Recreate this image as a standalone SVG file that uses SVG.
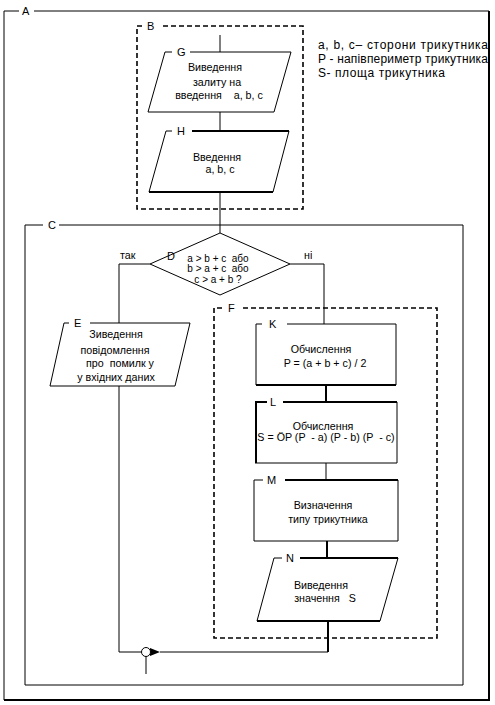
<svg xmlns="http://www.w3.org/2000/svg" width="495" height="705" viewBox="0 0 495 705">
<defs>
<style>
text{font-family:"Liberation Sans",Arial,sans-serif;font-size:10.7px;fill:#000}
.lbl{font-size:11px}
.leg{font-size:12px}
.dt{font-size:10px}
.m{text-anchor:middle}
.s{fill:none;stroke:#000;stroke-width:1}
.t{fill:none;stroke:#000;stroke-width:2}
.d{fill:none;stroke:#000;stroke-width:1.6;stroke-dasharray:5 3}
</style>
<marker id="arr" viewBox="0 0 10 8" refX="0" refY="4" markerWidth="10" markerHeight="8" markerUnits="userSpaceOnUse" orient="auto">
<path d="M0,4 L10,0 L10,8 Z" fill="#000"/>
</marker>
</defs>
<rect width="495" height="705" fill="#fff"/>

<g id="frameA">
<path class="s" d="M19,11 H4 V700"/>
<path class="s" d="M34,11 H489"/>
<path class="t" d="M489,11 V700 H4"/>
<text class="lbl" x="22" y="15">A</text>
</g>

<g id="frameB">
<path class="d" d="M142,26 H137 V209 H303 V26 H160"/>
<text class="lbl" x="147" y="30">B</text>
</g>

<g id="legend">
<text class="leg" x="318" y="49" textLength="170" lengthAdjust="spacing">a, b, c– сторони трикутника</text>
<text class="leg" x="318" y="63" textLength="170" lengthAdjust="spacing">P - напівпериметр трикутника</text>
<text class="leg" x="318" y="77" textLength="127" lengthAdjust="spacing">S- площа трикутника</text>
</g>

<g id="frameC">
<path class="s" d="M43,225 H25 V685 H463 V225 H59"/>
<text class="lbl" x="48" y="229">C</text>
</g>

<g id="frameF">
<path class="d" d="M222,308 H214 V638 H437 V308 H240"/>
<text class="lbl" x="228" y="312">F</text>
</g>

<g id="connectors">
<path class="s" d="M220,35 V52"/>
<path class="s" d="M220,112 V131"/>
<path class="s" d="M220,192 V233"/>
<path class="s" d="M150,264 H119 V323"/>
<path class="s" d="M290,264 H324 V324"/>
<path class="s" d="M119,386 V652 H141.5"/>
<path class="t" d="M326,385 V402"/>
<path class="s" d="M326,463 V480"/>
<path class="t" d="M327,541 V558"/>
<path class="t" d="M328,621 V652"/>
<path class="s" d="M328,652 H160" marker-end="url(#arr)"/>
<circle cx="146" cy="652" r="4.5" fill="#fff" stroke="#000" stroke-width="1"/>
<path class="s" d="M146,656.5 V674"/>
</g>

<g id="G">
<path class="s" d="M172,52 H165 L148,112 H274 L291,52 H190"/>
<text class="lbl" x="177" y="56">G</text>
<text class="m" x="215" y="71">Виведення</text>
<text class="m" x="217" y="86">залиту на</text>
<text class="m" x="219" y="99" xml:space="preserve">введення    a, b, c</text>
</g>

<g id="H">
<path class="s" d="M172,131 H166 L149,192 M273,192 L289,131"/>
<path class="t" d="M192,131 H289 M149,192 H273"/>
<text class="lbl" x="177" y="135">H</text>
<text class="m" x="217" y="161">Введення</text>
<text class="m" x="220" y="173">a, b, c</text>
</g>

<g id="D">
<path class="s" d="M220,233 L290,264 L220,295 L150,264 Z"/>
<text class="lbl" x="167" y="260">D</text>
<text class="m dt" x="218" y="261.5" xml:space="preserve">a &gt; b + c  або</text>
<text class="m dt" x="218" y="272" xml:space="preserve">b &gt; a + c  або</text>
<text class="m dt" x="218" y="283">c &gt; a + b ?</text>
<text x="120" y="259">так</text>
<text x="304" y="259">ні</text>
</g>

<g id="E">
<path class="s" d="M69,323 H64 L50,386 H175 L190,323 H90"/>
<text class="lbl" x="74" y="327">E</text>
<text class="m" x="116" y="338">Зиведення</text>
<text class="m" x="115" y="354">повідомлення</text>
<text class="m" x="120" y="367" xml:space="preserve">про  помилк у</text>
<text class="m" x="116" y="381">у вхідних даних</text>
</g>

<g id="K">
<path class="s" d="M262,324 H256 V385 M396,385 V324 H287"/>
<path class="t" d="M256,385 H396"/>
<text class="lbl" x="269" y="328">K</text>
<text class="m" x="321" y="353">Обчислення</text>
<text class="m" x="325" y="367">P = (a + b + c) / 2</text>
</g>

<g id="L">
<path class="s" d="M397,402 V463 H255"/>
<path class="t" d="M267,402 H256 V463 M283,402 H397"/>
<text class="lbl" x="270" y="406">L</text>
<text class="m" x="323" y="430">Обчислення</text>
<text class="m" x="326" y="441" xml:space="preserve">S = ÖP (P  - a) (P - b) (P  - c)</text>
</g>

<g id="M">
<path class="s" d="M263,480 H254 V541 H398 V480"/>
<path class="t" d="M285,480 H398"/>
<text class="lbl" x="267" y="484">M</text>
<text class="m" x="323" y="509">Визначення</text>
<text class="m" x="328" y="523">типу трикутника</text>
</g>

<g id="N">
<path class="s" d="M282,558 H274 L257,621 M380,621 L398,558"/>
<path class="t" d="M300,558 H398 M257,621 H380"/>
<text class="lbl" x="286" y="562">N</text>
<text class="m" x="321" y="589">Виведення</text>
<text class="m" x="325" y="602" xml:space="preserve">значення   S</text>
</g>
</svg>
